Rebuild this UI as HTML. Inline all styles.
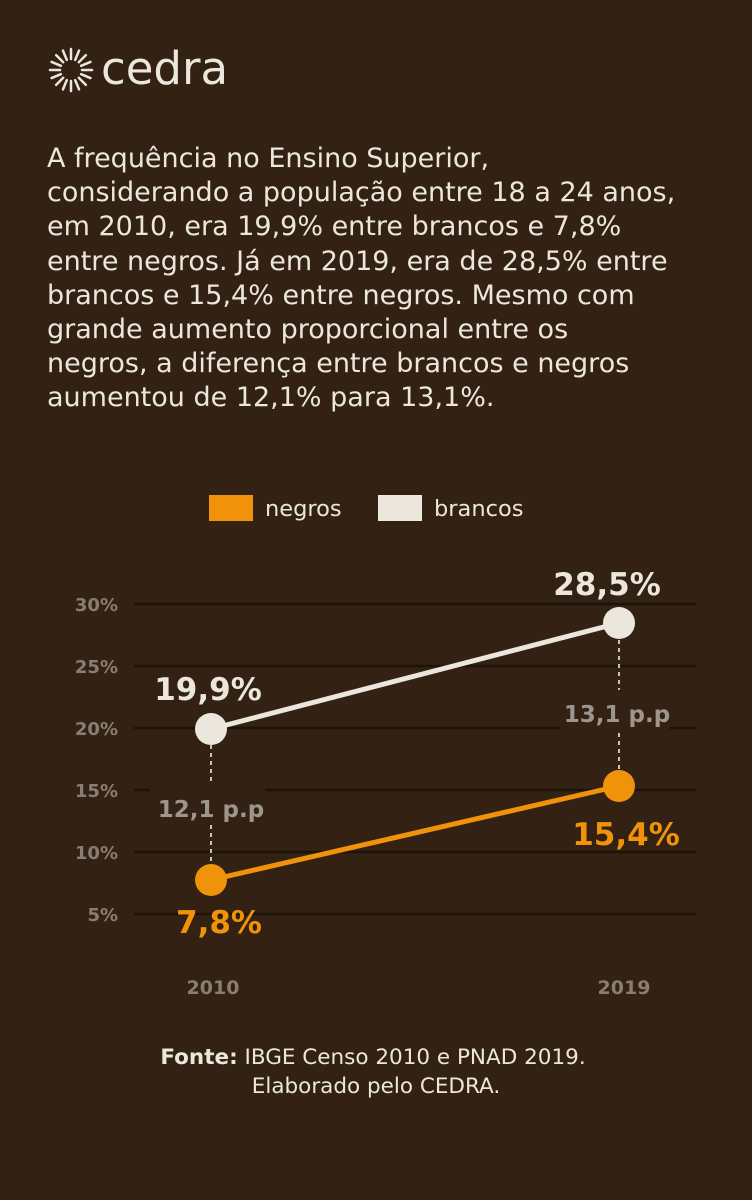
<!DOCTYPE html>
<html><head><meta charset="utf-8"><style>
html,body{margin:0;padding:0;background:#332213;}
body{width:752px;height:1200px;overflow:hidden;position:relative;font-family:"DejaVu Sans","Liberation Sans",sans-serif;}
.p{position:absolute;left:47px;top:142px;width:700px;color:#ebe7dc;font-size:27px;line-height:34.2px;white-space:nowrap;}
</style></head><body>
<svg width="752" height="1200" style="position:absolute;left:0;top:0" font-family="DejaVu Sans, Liberation Sans, sans-serif">
<g transform="translate(71,70)" stroke="#ebe7dc" stroke-width="2.5" stroke-linecap="round">
<g id="r">
<line x1="0" y1="-11" x2="0" y2="-21"/>
<line x1="0" y1="11" x2="0" y2="21"/>
<line x1="-11" y1="0" x2="-21" y2="0"/>
<line x1="11" y1="0" x2="21" y2="0"/>
</g>
<use href="#r" transform="rotate(22.5)"/>
<use href="#r" transform="rotate(45)"/>
<use href="#r" transform="rotate(67.5)"/>
</g>
<text x="101" y="84" font-size="45" fill="#ebe7dc">cedra</text>

<rect x="209" y="495" width="44" height="26" fill="#f0920a"/>
<text x="265" y="516" font-size="22.5" fill="#ebe7dc">negros</text>
<rect x="378" y="495" width="44" height="26" fill="#ebe7dc"/>
<text x="434" y="516" font-size="22.5" fill="#ebe7dc">brancos</text>

<g stroke="#1c130a" stroke-width="2.5">
<line x1="134" y1="604" x2="696" y2="604"/>
<line x1="134" y1="666" x2="696" y2="666"/>
<line x1="134" y1="728" x2="696" y2="728"/>
<line x1="134" y1="790" x2="696" y2="790"/>
<line x1="134" y1="852" x2="696" y2="852"/>
<line x1="134" y1="914" x2="696" y2="914"/>
</g>
<g font-size="18" font-weight="bold" fill="#8a7e74" text-anchor="end">
<text x="118" y="611">30%</text>
<text x="118" y="673">25%</text>
<text x="118" y="735">20%</text>
<text x="118" y="797">15%</text>
<text x="118" y="859">10%</text>
<text x="118" y="921">5%</text>
</g>
<rect x="150" y="782" width="115" height="40" fill="#332213"/>
<rect x="560" y="690" width="110" height="42" fill="#332213"/>
<g stroke="#c9c2b8" stroke-width="2" stroke-dasharray="4,4">
<line x1="211" y1="745" x2="211" y2="785"/>
<line x1="211" y1="825" x2="211" y2="866"/>
<line x1="619" y1="640" x2="619" y2="690"/>
<line x1="619" y1="733" x2="619" y2="770"/>
</g>
<text x="211" y="817" font-size="23" font-weight="bold" fill="#9e958c" text-anchor="middle">12,1 p.p</text>
<text x="617" y="722" font-size="23" font-weight="bold" fill="#9e958c" text-anchor="middle">13,1 p.p</text>

<line x1="211" y1="729" x2="619" y2="623" stroke="#ebe7dc" stroke-width="5"/>
<line x1="211" y1="880" x2="619" y2="786" stroke="#f0920a" stroke-width="5"/>
<circle cx="211" cy="729" r="16" fill="#ebe7dc"/>
<circle cx="619" cy="623" r="16" fill="#ebe7dc"/>
<circle cx="211" cy="880" r="16" fill="#f0920a"/>
<circle cx="619" cy="786" r="16" fill="#f0920a"/>

<g font-size="31" font-weight="bold" text-anchor="middle">
<text x="208" y="700" fill="#ebe7dc">19,9%</text>
<text x="607" y="595" fill="#ebe7dc">28,5%</text>
<text x="219" y="933" fill="#f0920a">7,8%</text>
<text x="626" y="845" fill="#f0920a">15,4%</text>
</g>
<g font-size="19" font-weight="bold" fill="#8a7e74" text-anchor="middle">
<text x="213" y="994">2010</text>
<text x="624" y="994">2019</text>
</g>
<text x="373" y="1064" font-size="21.5" fill="#ebe7dc" text-anchor="middle"><tspan font-weight="bold">Fonte:</tspan> IBGE Censo 2010 e PNAD 2019.</text>
<text x="376" y="1093" font-size="21.5" fill="#ebe7dc" text-anchor="middle">Elaborado pelo CEDRA.</text>
</svg>
<div class="p">A frequência no Ensino Superior,<br>considerando a população entre 18 a 24 anos,<br>em 2010, era 19,9% entre brancos e 7,8%<br>entre negros. Já em 2019, era de 28,5% entre<br>brancos e 15,4% entre negros. Mesmo com<br>grande aumento proporcional entre os<br>negros, a diferença entre brancos e negros<br>aumentou de 12,1% para 13,1%.</div>
</body></html>
